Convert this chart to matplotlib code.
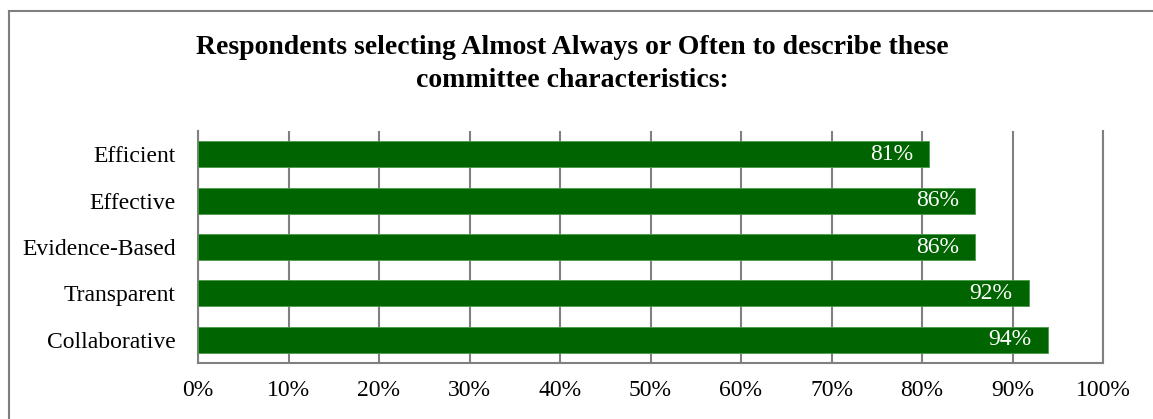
import numpy as np
import matplotlib.pyplot as plt
from matplotlib.lines import Line2D

# Datos
categories = ["Efficient", "Effective", "Evidence-Based", "Transparent", "Collaborative"]
values = [80.8, 85.9, 85.9, 91.8, 93.9]
xticks = [0, 10, 20, 30, 40, 50, 60, 70, 80, 90, 100]

plt.rcParams['font.family'] = ['Liberation Serif', 'DejaVu Serif']

W, H = 1153, 419
fig = plt.figure(figsize=(W / 100, H / 100), dpi=100)
ax = fig.add_axes([198 / W, 1 - 363 / H, (1103 - 198) / W, (363 - 131) / H])

grid_c = "#808080"
y = np.arange(len(categories))
ax.barh(y, values, height=0.56, color="#006400", edgecolor="#4a9a4a",
        linewidth=0.6, zorder=3)
for yi, v in zip(y, values):
    ax.text(v - 1.8, yi, f"{v:.0f}%", ha="right", va="center", color="white",
            fontsize=17, zorder=4)

ax.set_ylim(len(categories) - 0.5, -0.5)
ax.set_xlim(0, 100)
ax.set_yticks(y)
ax.set_yticklabels(categories, fontsize=17)
ax.set_xticks(xticks)
ax.set_xticklabels([f"{t}%" for t in xticks], fontsize=17)
ax.tick_params(axis="y", length=0, pad=16)
ax.tick_params(axis="x", length=0, pad=12)
ax.grid(axis="x", color=grid_c, linewidth=1.5, zorder=0)
ax.spines["top"].set_visible(False)
for side in ["left", "bottom", "right"]:
    ax.spines[side].set_color(grid_c)
    ax.spines[side].set_linewidth(1.5)

fig.text(572 / W, 1 - 64 / H,
         "Respondents selecting Almost Always or Often to describe these\ncommittee characteristics:",
         ha="center", va="center", fontsize=20, fontweight="bold",
         linespacing=1.38)

# marco exterior
fig.add_artist(Line2D([9 / W, 1], [1 - 11 / H, 1 - 11 / H], color="#7f7f7f", lw=1.5))
fig.add_artist(Line2D([9 / W, 9 / W], [0, 1 - 11 / H], color="#7f7f7f", lw=1.5))

fig.savefig("out.png", dpi=100)
